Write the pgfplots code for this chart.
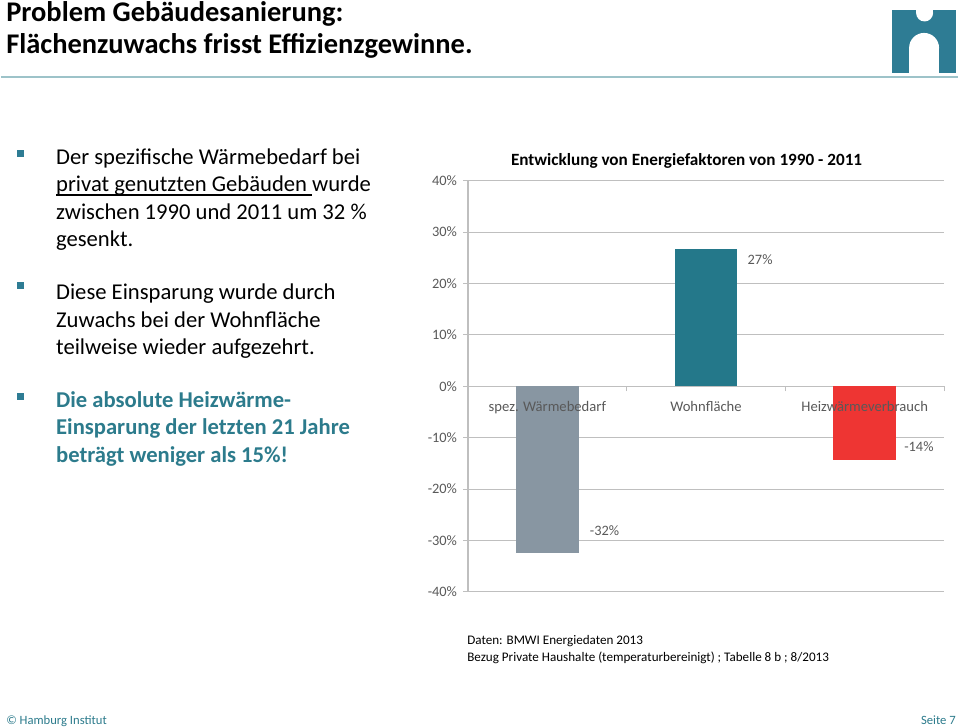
\documentclass[border=0pt]{standalone}
\usepackage{pgfplots}
\pgfplotsset{compat=1.18}
\usepackage{fontspec}
\setmainfont{Carlito}
\definecolor{tealtxt}{HTML}{2C7B8C}
\definecolor{logoC}{HTML}{2E7C94}
\definecolor{ruleC}{HTML}{9DC3C9}
\definecolor{barGrey}{HTML}{8896A2}
\definecolor{barTeal}{HTML}{24788A}
\definecolor{barRed}{HTML}{EE3533}
\definecolor{axgray}{HTML}{BFBFBF}
\definecolor{lblgray}{HTML}{595959}
\newcommand\ul[1]{\setbox0\hbox{#1}\rlap{\rule[-3pt]{\wd0}{0.9pt}}\box0}
\begin{document}
\begin{tikzpicture}[x=0.75pt,y=-0.75pt]
\fill[white] (0,0) rectangle (959,729);
% slide title
\node[anchor=base west, inner sep=0, font=\fontsize{21.4}{25}\selectfont\bfseries] at (5,22) {Problem Gebäudesanierung:};
\node[anchor=base west, inner sep=0, font=\fontsize{21.4}{25}\selectfont\bfseries] at (5,54) {Flächenzuwachs frisst Effizienzgewinne.};
\draw[ruleC, line width=1.5pt] (0,77) -- (959,77);
% logo
\fill[logoC] (893,10) rectangle (957,73);
\fill[white] (917,9) rectangle (934,13);
\fill[white] (925.5,13) circle (8.5);
\fill[white] (910,48) rectangle (940,74);
\fill[white] (925,48) circle (15);
% bullets
\foreach \yy in {150,283,394} {\fill[logoC] (16,\yy) rectangle (23,\yy+7);}
\begin{scope}[every node/.style={anchor=base west, inner sep=0, font=\fontsize{17}{20}\selectfont}]
\node at (55,165) {Der spezifische Wärmebedarf bei};
\node at (55,192) {\ul{privat genutzten Gebäuden\ }wurde};
\node at (55,220) {zwischen 1990 und 2011 um 32 \%};
\node at (55,247) {gesenkt.};
\node at (55,300) {Diese Einsparung wurde durch};
\node at (55,328) {Zuwachs bei der Wohnfläche};
\node at (55,355) {teilweise wieder aufgezehrt.};
\node[text=tealtxt, font=\fontsize{17}{20}\selectfont\bfseries] at (55,408) {Die absolute Heizwärme-};
\node[text=tealtxt, font=\fontsize{17}{20}\selectfont\bfseries] at (55,435) {Einsparung der letzten 21 Jahre};
\node[text=tealtxt, font=\fontsize{17}{20}\selectfont\bfseries] at (55,463) {beträgt weniger als 15\%!};
\end{scope}
% chart title
\node[font=\fontsize{12.9}{15}\selectfont\bfseries] at (687,161) {Entwicklung von Energiefaktoren von 1990 - 2011};
\begin{axis}[
  at={(351pt,-444.75pt)}, anchor=south west,
  scale only axis, width=357.75pt, height=309pt,
  xmin=-0.5, xmax=2.5, ymin=-40, ymax=40,
  axis x line=middle, axis y line=left,
  axis line style={-, draw=axgray, line width=0.8pt},
  ytick={-40,-30,...,40},
  yticklabel={\pgfmathprintnumber{\tick}\%},
  /pgf/number format/assume math mode=true,
  yticklabel style={font=\fontsize{10.8}{12}\selectfont, text=lblgray, xshift=-1pt},
  ymajorgrids, grid style={draw=axgray, line width=0.6pt},
  tick style={draw=axgray, line width=0.6pt},
  tick align=outside, major tick length=3.75pt,
  xtick={0.5,1.5,2.5}, xticklabels={},
  clip=false,
]
\addplot[ybar, bar shift=0pt, bar width=47.25pt, fill=barGrey, draw=none] coordinates {(0,-32.4)};
\addplot[ybar, bar shift=0pt, bar width=47.25pt, fill=barTeal, draw=none] coordinates {(1,26.7)};
\addplot[ybar, bar shift=0pt, bar width=47.25pt, fill=barRed, draw=none] coordinates {(2,-14.3)};
% category names
\foreach \i/\name in {0/spez. Wärmebedarf, 1/Wohnfläche, 2/Heizwärmeverbrauch} {
  \edef\temp{\noexpand\node[font=\noexpand\fontsize{11}{13}\noexpand\selectfont, text=lblgray, anchor=base, yshift=-18.75pt] at (axis cs:\i,0) {\name};}
  \temp
}
% data labels
\node[font=\fontsize{10.8}{12}\selectfont, text=lblgray, anchor=west, inner sep=0] at (axis cs:0.267,-28.16) {-32\%};
\node[font=\fontsize{10.8}{12}\selectfont, text=lblgray, anchor=west, inner sep=0] at (axis cs:1.261,24.66) {27\%};
\node[font=\fontsize{10.8}{12}\selectfont, text=lblgray, anchor=west, inner sep=0] at (axis cs:2.248,-11.84) {-14\%};
\end{axis}
% source note
\node[anchor=base west, inner sep=0, font=\fontsize{9.85}{12}\selectfont] at (467,646) {Daten: BMWI Energiedaten 2013};
\node[anchor=base west, inner sep=0, font=\fontsize{9.85}{12}\selectfont] at (467,662.5) {Bezug Private Haushalte (temperaturbereinigt) ; Tabelle 8 b ; 8/2013};
% footer
\node[anchor=base west, inner sep=0, text=tealtxt, font=\fontsize{9.5}{12}\selectfont] at (5,726) {© Hamburg Institut};
\node[anchor=base east, inner sep=0, text=tealtxt, font=\fontsize{9.5}{12}\selectfont] at (957,726) {Seite 7};
\end{tikzpicture}
\end{document}
